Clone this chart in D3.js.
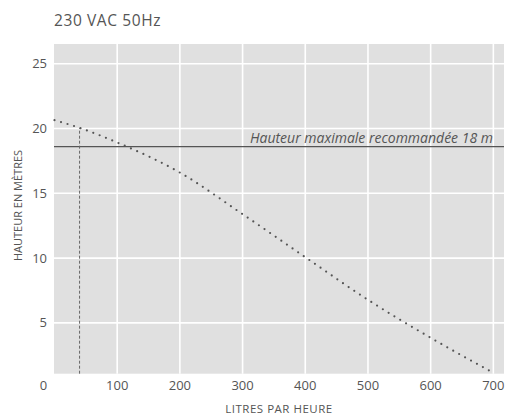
<!DOCTYPE html>
<html>
  <head>
    <meta charset="utf-8">
    <title>230 VAC 50Hz</title>
    <script src="https://d3js.org/d3.v7.min.js"></script>
    <style>
    body { margin: 0; background: #fff; }
    text { font-family: "Open Sans", "Noto Sans", sans-serif; fill: #555; }
    .grid-line { stroke: #fff; stroke-width: 1.6px; }
    </style>
  </head>
  <body>
    <script>
      // data
      const flow   = [0, 40, 100, 200, 300, 400, 500, 600, 700];        // litres / hour
      const height = [20.64, 20.05, 18.92, 16.6, 13.39, 10.07, 6.78, 3.85, 1.15]; // metres
      const xTicks = [0, 100, 200, 300, 400, 500, 600, 700];
      const yTicks = [5, 10, 15, 20, 25];
      const maxHeight = 18.6;      // drawn level of the "18 m" line
      const markFlow = 40;         // dashed reference flow
      const maxLabel = "Hauteur maximale recommandée 18 m";

      const W = 510, H = 417;
      const plot = { left: 54, right: 504, top: 44, bottom: 373.7 };

      const svg = d3.select("body").append("svg")
          .attr("width", W)
          .attr("height", H);

      const x = d3.scaleLinear()
          .domain([0, 717])
          .range([plot.left + 0.5, plot.right]);

      const y = d3.scaleLinear()
          .domain([1.08, 26.52])
          .range([plot.bottom, plot.top]);

      // background
      svg.append("rect")
          .attr("x", plot.left)
          .attr("y", plot.top)
          .attr("width", plot.right - plot.left)
          .attr("height", plot.bottom - plot.top)
          .attr("fill", "#e0e0e0");

      // grid
      svg.selectAll("line.vgrid")
        .data(xTicks.filter(d => d > 0))
        .enter().append("line")
          .classed("grid-line", true)
          .attr("x1", d => x(d)).attr("x2", d => x(d))
          .attr("y1", plot.top).attr("y2", plot.bottom);

      svg.selectAll("line.hgrid")
        .data(yTicks)
        .enter().append("line")
          .classed("grid-line", true)
          .attr("x1", plot.left).attr("x2", plot.right)
          .attr("y1", d => y(d)).attr("y2", d => y(d));

      // tick labels
      svg.selectAll("text.xt")
        .data(xTicks)
        .enter().append("text")
          .attr("x", d => d === 0 ? x(d) - 11 : x(d))
          .attr("y", 390)
          .attr("text-anchor", "middle")
          .style("font-size", "13px")
          .text(d => d);

      svg.selectAll("text.yt")
        .data(yTicks)
        .enter().append("text")
          .attr("x", 47)
          .attr("y", d => y(d) + 4.5)
          .attr("text-anchor", "end")
          .style("font-size", "13px")
          .text(d => d);

      // max height line + label
      svg.append("line")
          .attr("x1", plot.left).attr("x2", plot.right)
          .attr("y1", y(maxHeight)).attr("y2", y(maxHeight))
          .attr("stroke", "#555")
          .attr("stroke-width", 1.1);

      svg.append("text")
          .attr("x", 493)
          .attr("y", y(maxHeight) - 4)
          .attr("text-anchor", "end")
          .style("font-size", "14px")
          .style("font-style", "italic")
          .text(maxLabel);

      // dashed reference flow
      const curve = d3.scaleLinear().domain(flow).range(height);
      svg.append("line")
          .attr("x1", x(markFlow)).attr("x2", x(markFlow))
          .attr("y1", plot.bottom).attr("y2", y(curve(markFlow)))
          .attr("stroke", "#666")
          .attr("stroke-width", 1)
          .attr("stroke-dasharray", "3,2");

      // dotted performance curve
      const line = d3.line()
          .x((d, i) => x(flow[i]))
          .y(d => y(d))
          .curve(d3.curveMonotoneX);

      svg.append("path")
          .datum(height)
          .attr("d", line)
          .attr("fill", "none")
          .attr("stroke", "#555")
          .attr("stroke-width", 2.2)
          .attr("stroke-linecap", "round")
          .attr("stroke-dasharray", "0,6.8");

      // titles
      svg.append("text")
          .attr("x", 54)
          .attr("y", 26)
          .style("font-size", "15.5px")
          .style("letter-spacing", "0.6px")
          .text("230 VAC 50Hz");

      svg.append("text")
          .attr("x", 279)
          .attr("y", 412.5)
          .attr("text-anchor", "middle")
          .style("font-size", "11.5px")
          .style("letter-spacing", "0.5px")
          .text("LITRES PAR HEURE");

      svg.append("text")
          .attr("transform", "translate(22,205.5) rotate(-90)")
          .attr("text-anchor", "middle")
          .style("font-size", "11px")
          .text("HAUTEUR EN MÈTRES");
    </script>
  </body>
</html>
